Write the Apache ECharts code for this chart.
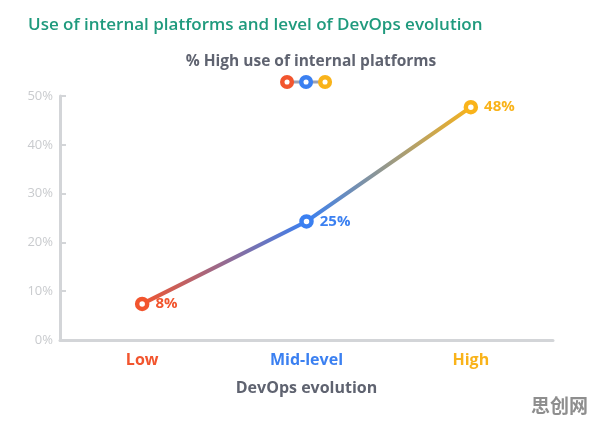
<!DOCTYPE html>
<html>
<head>
<meta charset="utf-8">
<script src="https://cdn.jsdelivr.net/npm/echarts@6/dist/echarts.min.js"></script>
<style>
  html, body { margin: 0; padding: 0; background: #fff; }
  #chart { width: 596px; height: 424px; }
</style>
</head>
<body>
<div id="chart"></div>
<script>
// data
const categories = ["Low", "Mid-level", "High"];
const highUse = [7.4, 24.3, 47.7];
const pointLabels = ["8%", "25%", "48%"];
const yTicks = [0, 10, 20, 30, 40, 50];
const levelColors = ["#f2552e", "#3b80f1", "#f9b31a"];

const font = "'Open Sans', sans-serif";
const grey = "#5f6370";

var myChart = echarts.init(document.getElementById("chart"));

let options = {
  backgroundColor: "#fff",
  textStyle: { fontFamily: font },
  title: [
    {
      text: "Use of internal platforms and level of DevOps evolution",
      left: 23,
      top: 12,
      textStyle: { color: "#1f9a7d", fontSize: 17, fontWeight: 600, fontFamily: font },
    },
    {
      text: "% High use of internal platforms",
      left: 306,
      textAlign: "center",
      top: 49,
      textStyle: { color: grey, fontSize: 15.5, fontWeight: 700, fontFamily: font },
    },
  ],
  grid: { left: 60, right: 43, top: 96, bottom: 84 },
  xAxis: {
    type: "category",
    data: categories,
    boundaryGap: true,
    name: "DevOps evolution",
    nameLocation: "middle",
    nameGap: 40,
    nameTextStyle: { color: grey, fontSize: 16, fontWeight: 700, fontFamily: font },
    axisLine: { lineStyle: { color: "#d3d5d8", width: 3 } },
    axisTick: { alignWithLabel: true, inside: true, length: 6, lineStyle: { color: "#d3d5d8", width: 2 } },
    axisLabel: {
      margin: 12,
      fontSize: 16,
      fontWeight: 700,
      fontFamily: font,
      color: (v, i) => levelColors[i],
    },
  },
  yAxis: {
    type: "value",
    min: yTicks[0],
    max: yTicks[yTicks.length - 1],
    interval: 10,
    splitLine: { show: false },
    axisLine: { show: true, lineStyle: { color: "#d3d5d8", width: 3 } },
    axisTick: { show: true, inside: true, length: 6, lineStyle: { color: "#d3d5d8", width: 2 } },
    axisLabel: { formatter: "{value}%", color: "#c9cbce", fontSize: 13, margin: 7, fontFamily: font },
  },
  series: [
    {
      name: "% High use of internal platforms",
      type: "line",
      data: highUse.map((v, i) => ({
        value: v,
        itemStyle: { color: "#fff", borderColor: levelColors[i], borderWidth: 4.5 },
        label: {
          show: true,
          position: "right",
          distance: 6,
          formatter: pointLabels[i],
          color: levelColors[i],
          fontSize: 15,
          fontWeight: 700,
          fontFamily: font,
        },
      })),
      symbol: "circle",
      symbolSize: 10,
      lineStyle: {
        width: 4,
        color: new echarts.graphic.LinearGradient(0, 0, 1, 0, [
          { offset: 0, color: levelColors[0] },
          { offset: 0.5, color: levelColors[1] },
          { offset: 1, color: levelColors[2] },
        ]),
      },
      z: 3,
    },
  ],
  graphic: [
    // legend glyph under the subtitle
    {
      type: "group",
      left: 280,
      top: 75,
      children: [
        { type: "line", shape: { x1: 7, y1: 7, x2: 45, y2: 7 }, style: { stroke: "#9aa0b4", lineWidth: 3 } },
        { type: "circle", shape: { cx: 7, cy: 7, r: 4.8 }, style: { fill: "#fff", stroke: levelColors[0], lineWidth: 4.5 } },
        { type: "circle", shape: { cx: 26, cy: 7, r: 4.8 }, style: { fill: "#fff", stroke: levelColors[1], lineWidth: 4.5 } },
        { type: "circle", shape: { cx: 45, cy: 7, r: 4.8 }, style: { fill: "#fff", stroke: levelColors[2], lineWidth: 4.5 } },
      ],
    },
    {
      type: "text",
      right: 8,
      bottom: 9,
      style: { text: "思创网", fill: "#8e8e8e", font: "bold 19px 'Noto Sans CJK SC'" },
    },
  ],
};
myChart.setOption(options);
</script>
</body>
</html>
